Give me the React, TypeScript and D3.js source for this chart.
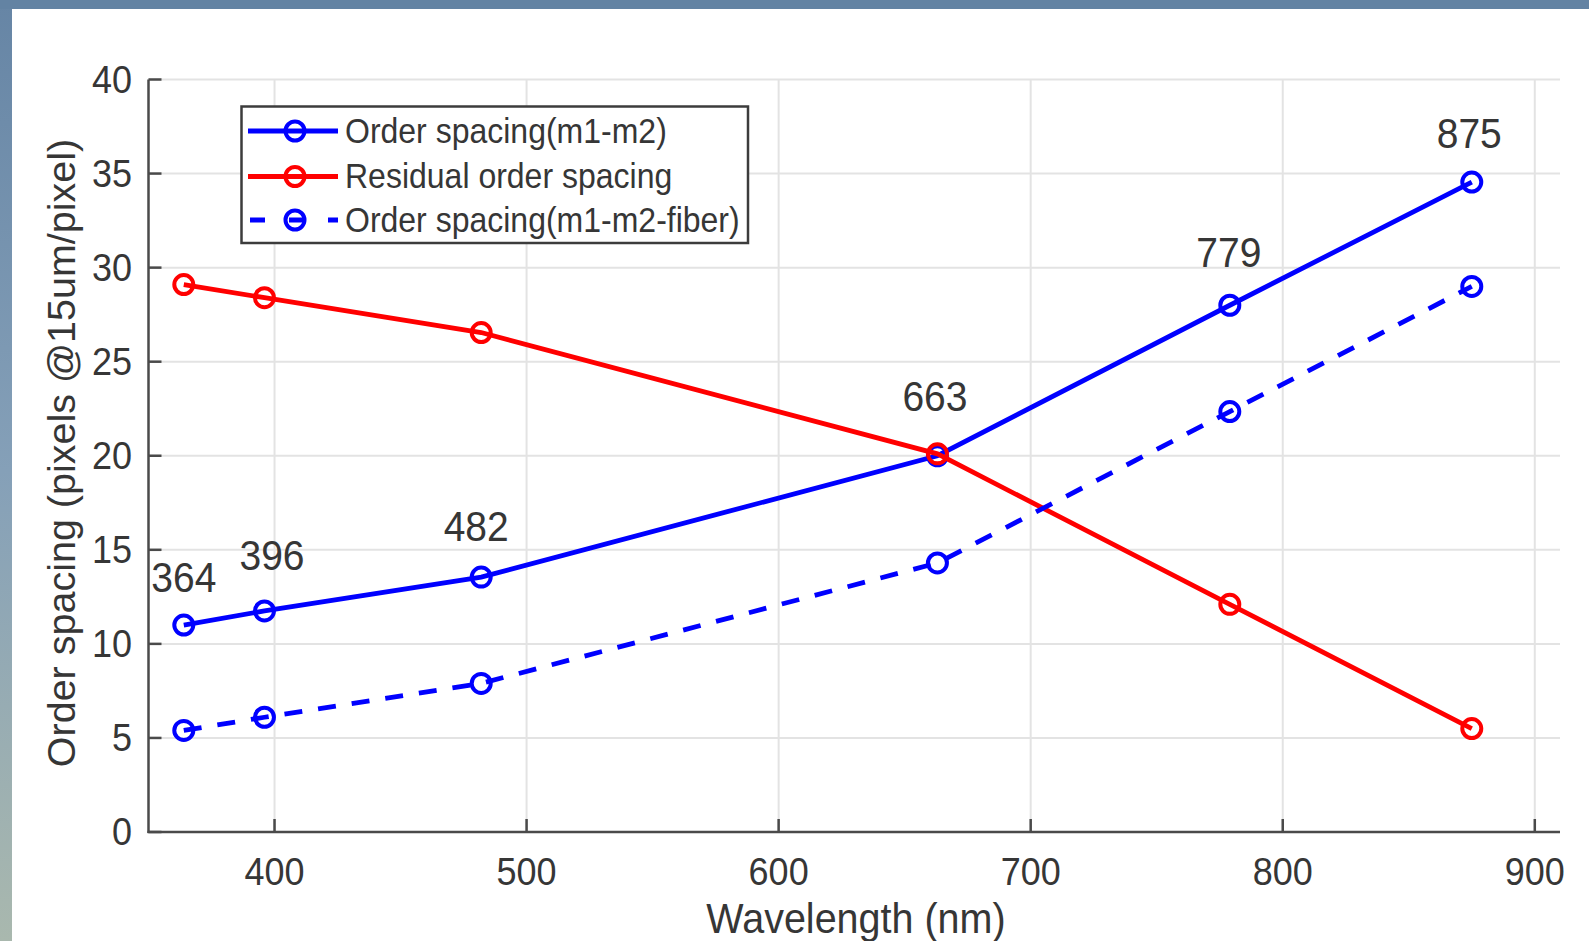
import * as d3 from "d3";
import { useEffect } from "react";

const wavelengths = [364, 396, 482, 663, 779, 875];
const orderSpacing = [11.0, 11.75, 13.55, 20.0, 28.0, 34.55];
const residualSpacing = [29.1, 28.4, 26.55, 20.1, 12.1, 5.5];
const fiberSpacing = [5.4, 6.1, 7.9, 14.3, 22.35, 29.0];

// text annotations, placed in data units like MATLAB's text(x, y, ...)
const annotText = ["364", "396", "482", "663", "779", "875"];
const annotX = [364, 399, 480, 662, 778.6, 874];
const annotY = [12.75, 13.95, 15.45, 22.4, 30.05, 36.35];

const xTicks = [400, 500, 600, 700, 800, 900];
const yTicks = [0, 5, 10, 15, 20, 25, 30, 35, 40];

const legendLabels = [
  "Order spacing(m1-m2)",
  "Residual order spacing",
  "Order spacing(m1-m2-fiber)",
];

const font = "'Liberation Sans', Arial, sans-serif";
const textColor = "#363636";
const axisColor = "#4a4a4a";
// the source picture is a little stretched vertically
const stretch = 1.08;

export default function App() {
  const width = 1589;
  const height = 941;
  const left = 148.5;
  const right = 1560;
  const top = 79.5;
  const bottom = 832;

  useEffect(() => {
    document.body.style.margin = "0";
  }, []);

  const x = d3.scaleLinear([350, 910], [left, right]);
  const y = d3.scaleLinear([0, 40], [bottom, top]);

  const line = d3
    .line<number>()
    .x((d, i) => x(wavelengths[i]))
    .y((d) => y(d));

  const series = [
    { values: orderSpacing, color: "#0000ff", dash: null },
    { values: residualSpacing, color: "#ff0000", dash: null },
    { values: fiberSpacing, color: "#0000ff", dash: "18 16" },
  ];

  const legX = 241.5;
  const legY = 106.5;
  const legW = 506.5;
  const legH = 136.5;
  const rowY = [131, 176.5, 220];

  const at = (px: number, py: number) =>
    `translate(${px},${py}) scale(1,${stretch})`;

  return (
    <svg
      width={width}
      height={height}
      style={{ display: "block", position: "absolute", left: 0, top: 0 }}
      fontFamily={font}
    >
      <defs>
        <linearGradient id="frame" x1="0" y1="0" x2="0" y2="1">
          <stop offset="0" stopColor="#6685a5" />
          <stop offset="0.5" stopColor="#85a0b8" />
          <stop offset="1" stopColor="#a9b8ae" />
        </linearGradient>
      </defs>
      <rect x={0} y={0} width={width} height={height} fill="url(#frame)" />
      <rect x={0} y={0} width={width} height={9} fill="#6383a3" />
      <rect x={12} y={9} width={width - 12} height={height - 9} fill="#ffffff" />

      {/* grid */}
      <g stroke="#e3e3e3" strokeWidth={2}>
        {xTicks.map((t) => (
          <line key={"gx" + t} x1={x(t)} x2={x(t)} y1={top} y2={bottom} />
        ))}
        {yTicks.map((t) => (
          <line key={"gy" + t} x1={left} x2={right} y1={y(t)} y2={y(t)} />
        ))}
      </g>

      {/* axes */}
      <g stroke={axisColor} strokeWidth={2.5} fill="none">
        <line x1={left} x2={left} y1={top} y2={bottom + 1} />
        <line x1={left - 1} x2={right} y1={bottom} y2={bottom} />
        {xTicks.map((t) => (
          <line key={"tx" + t} x1={x(t)} x2={x(t)} y1={bottom} y2={bottom - 13} />
        ))}
        {yTicks.map((t) => (
          <line key={"ty" + t} x1={left} x2={left + 13} y1={y(t)} y2={y(t)} />
        ))}
      </g>

      <g fill={textColor} fontSize={36}>
        {xTicks.map((t) => (
          <text key={"lx" + t} transform={at(x(t), 885)} textAnchor="middle">
            {t}
          </text>
        ))}
        {yTicks.map((t) => (
          <text
            key={"ly" + t}
            transform={at(132, y(t) + 13)}
            textAnchor="end"
          >
            {t}
          </text>
        ))}
      </g>

      <text
        transform={at(856, 933)}
        textAnchor="middle"
        fontSize={39.5}
        fill={textColor}
      >
        Wavelength (nm)
      </text>
      <text
        transform="translate(75,453) rotate(-90)"
        textAnchor="middle"
        fontSize={39.5}
        fill={textColor}
      >
        Order spacing (pixels @15um/pixel)
      </text>

      {/* series */}
      {series.map((s, si) => (
        <g key={"s" + si}>
          <path
            d={line(s.values) ?? ""}
            fill="none"
            stroke={s.color}
            strokeWidth={4.8}
            strokeDasharray={s.dash ?? undefined}
          />
          {s.values.map((v, i) => (
            <circle
              key={i}
              cx={x(wavelengths[i])}
              cy={y(v)}
              r={9.5}
              fill="none"
              stroke={s.color}
              strokeWidth={4}
            />
          ))}
        </g>
      ))}

      {/* annotations */}
      <g fill={textColor} fontSize={39} textAnchor="middle">
        {annotText.map((t, i) => (
          <text key={"a" + i} transform={at(x(annotX[i]), y(annotY[i]))}>
            {t}
          </text>
        ))}
      </g>

      {/* legend */}
      <rect
        x={legX}
        y={legY}
        width={legW}
        height={legH}
        fill="#ffffff"
        stroke="#3c3c3c"
        strokeWidth={2.5}
      />
      {legendLabels.map((lab, i) => (
        <g key={"leg" + i}>
          <line
            x1={248}
            x2={338}
            y1={rowY[i]}
            y2={rowY[i]}
            stroke={series[i].color}
            strokeWidth={4.8}
            strokeDasharray={series[i].dash ? "15 24" : undefined}
            strokeDashoffset={series[i].dash ? -2 : 0}
          />
          <circle
            cx={295}
            cy={rowY[i]}
            r={9.5}
            fill="none"
            stroke={series[i].color}
            strokeWidth={4}
          />
          <text
            transform={at(345, rowY[i] + 11.5)}
            fontSize={32}
            fill={textColor}
          >
            {lab}
          </text>
        </g>
      ))}
    </svg>
  );
}
